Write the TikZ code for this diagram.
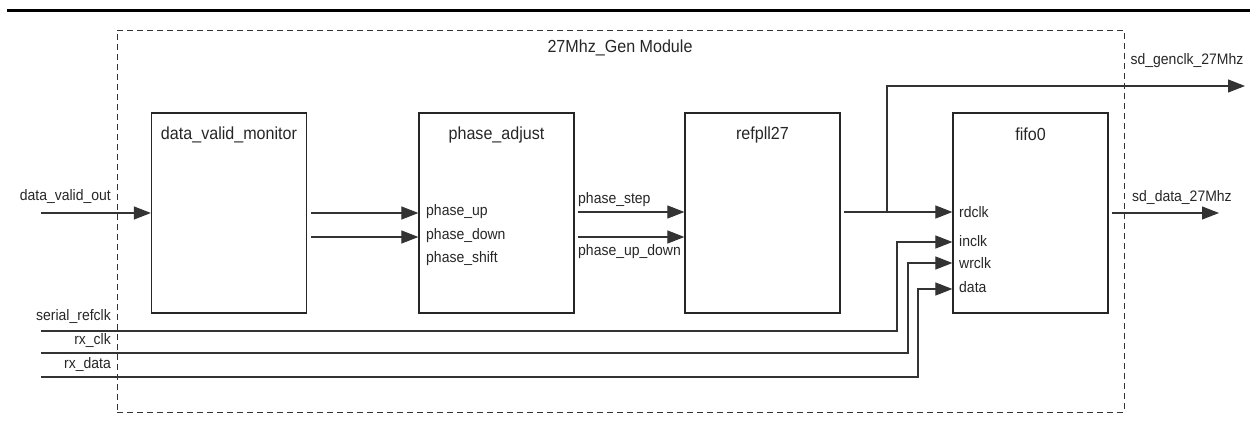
\documentclass[tikz,border=0pt]{standalone}
\usepackage{fontspec}
\setmainfont{Liberation Sans}[FakeStretch=0.92]
\usetikzlibrary{arrows.meta}
\begin{document}
\begin{tikzpicture}[x=1pt,y=-1pt,
  blk/.style={draw=black!85,line width=1.2pt,minimum width=155pt,minimum height=200pt,inner sep=0pt},
  ttl/.style={font=\fontsize{17.5}{20}\selectfont,text=black!85,inner sep=0pt},
  lbl/.style={font=\fontsize{15.2}{18}\selectfont,text=black!85,inner sep=0pt},
  sig/.style={draw=black!80,line width=1.1pt},
  arr/.style={sig,-{Triangle[length=17pt,width=13pt]}}]
\useasboundingbox (0,0) rectangle (1250,425);
% top rule
\draw[line width=3pt] (7,11) -- (1250,11);
% module boundary
\node[draw=black!80,dashed,dash pattern=on 6pt off 4pt,line width=0.9pt,minimum width=1007pt,minimum height=382pt,inner sep=0pt] (mod) at (620.5,221) {};
\node[ttl] (modt) at (620,48) {27Mhz\_Gen Module};
% blocks
\node[blk] (dvm) at (229,213) {};
\node[blk] (pa) at (496.5,213) {};
\node[blk] (pll) at (762.5,213) {};
\node[blk] (fifo) at (1030.5,213) {};
\node[ttl] at (229,135) {data\_valid\_monitor};
\node[ttl] at (496.5,135) {phase\_adjust};
\node[ttl] at (762.5,135) {refpll27};
\node[ttl] at (1030.5,134) {fifo0};
% port labels
\node[lbl,anchor=west] (pup) at (426,212) {phase\_up};
\node[lbl,anchor=west] (pdn) at (426,236) {phase\_down};
\node[lbl,anchor=west] (psh) at (426,259) {phase\_shift};
\node[lbl,anchor=west] (rdclk) at (959,212) {rdclk};
\node[lbl,anchor=west] (inclk) at (959,241) {inclk};
\node[lbl,anchor=west] (wrclk) at (959,263) {wrclk};
\node[lbl,anchor=west] (data) at (959,287) {data};
% external labels
\node[lbl,anchor=east] (dvo) at (111,197) {data\_valid\_out};
\node[lbl,anchor=east] (srl) at (111,317) {serial\_refclk};
\node[lbl,anchor=east] (rxc) at (111,341) {rx\_clk};
\node[lbl,anchor=east] (rxd) at (111,365) {rx\_data};
\node[lbl,anchor=west] (sdd) at (1132,198) {sd\_data\_27Mhz};
\node[lbl] (sdg) at (1187,61) {sd\_genclk\_27Mhz};
\node[lbl,anchor=west] (pst) at (578,200) {phase\_step};
\node[lbl,anchor=west] (pud) at (578,252) {phase\_up\_down};
% coordinates
\coordinate (dvoS) at (41,213);
\coordinate (srlS) at (41,331);
\coordinate (rxcS) at (41,353);
\coordinate (rxdS) at (41,377);
\coordinate (br) at (887,213);
\coordinate (sdgE) at (1245,86);
\coordinate (sddE) at (1219,213);
% connectors
\draw[arr] (dvoS) -- (dvm.west |- dvoS);
\draw[arr] ([xshift=4pt]dvm.east |- 0,213) -- (pa.west |- 0,213);
\draw[arr] ([xshift=4pt]dvm.east |- 0,237) -- (pa.west |- 0,237);
\draw[arr] ([xshift=3pt]pa.east |- 0,212) -- (pll.west |- 0,212);
\draw[arr] ([xshift=3pt]pa.east |- 0,237) -- (pll.west |- 0,237);
\draw[arr] ([xshift=3pt]pll.east |- 0,212) -- (fifo.west |- 0,212);
\draw[arr] (br) |- (sdgE);
\draw[arr] ([xshift=3pt]fifo.east |- 0,213) -- (sddE);
\draw[arr] (srlS) -| (897,242) -- (fifo.west |- 0,242);
\draw[arr] (rxcS) -| (908,263) -- (fifo.west |- 0,263);
\draw[arr] (rxdS) -| (918,289) -- (fifo.west |- 0,289);
\end{tikzpicture}
\end{document}
